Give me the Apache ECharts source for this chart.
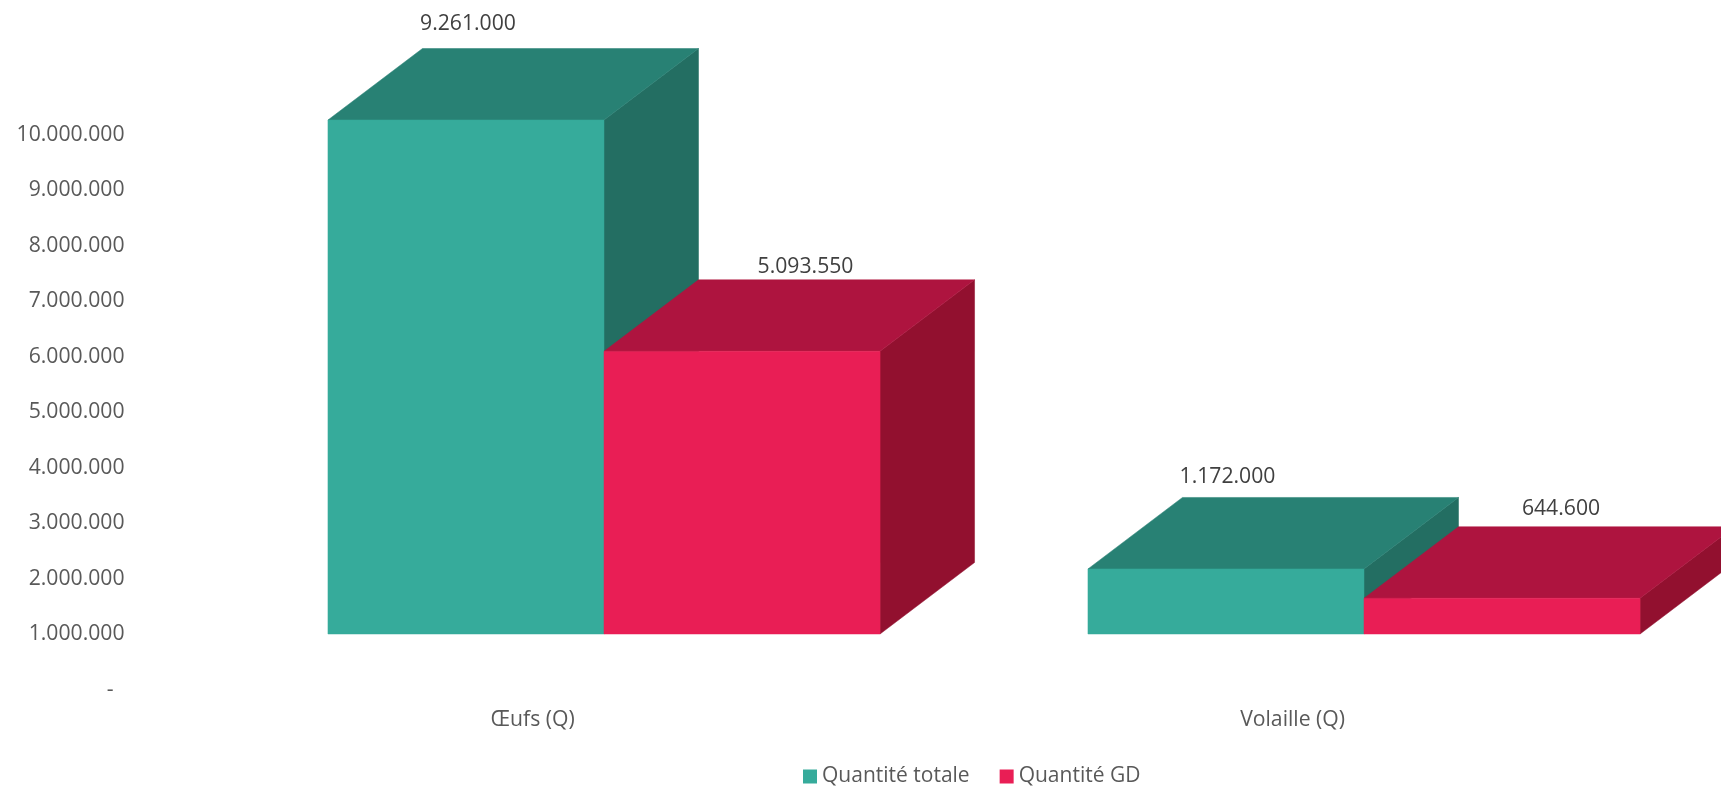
<!DOCTYPE html>
<html>
<head>
<meta charset="utf-8">
<style>html,body{margin:0;padding:0;background:#fff}#c{width:1721px;height:787px}</style>
<script src="https://cdn.jsdelivr.net/npm/echarts@6/dist/echarts.min.js"></script>
</head>
<body>
<div id="c"></div>
<script>
const categories = ['Œufs (Q)', 'Volaille (Q)'];
const quantiteTotale = [9261000, 1172000];
const quantiteGD = [5093550, 644600];
const seriesNames = ['Quantité totale', 'Quantité GD'];
const floorValue = 1000000;

const FONT = '"Open Sans", sans-serif';
const FONT_SIZE = 21.2;
const fmt = v => String(v).replace(/\B(?=(\d{3})+(?!\d))/g, '.');
const DEPTH_X = 94.5, DEPTH_Y = 71.5, BAR_RATIO = 0.3632, GROUP_SHIFT = 71.4;

function box(colors, side, labelOffsets) {
  return function (params, api) {
    const i = api.value(0), v = api.value(1);
    const bandW = api.size([1, 0])[0];
    const w = bandW * BAR_RATIO;
    const cx = api.coord([i, 0])[0] + GROUP_SHIFT;
    const x0 = side === 0 ? cx - w : cx;
    const x1 = x0 + w;
    const yB = api.coord([i, floorValue])[1];
    const yT = api.coord([i, floorValue + v])[1];
    const off = labelOffsets[i];
    const poly = (pts, fill) => ({ type: 'polygon', shape: { points: pts }, style: { fill: fill, stroke: fill, lineWidth: 0.5 } });
    return {
      type: 'group',
      children: [
        poly([[x1, yB], [x1 + DEPTH_X, yB - DEPTH_Y], [x1 + DEPTH_X, yT - DEPTH_Y], [x1, yT]], colors.side),
        poly([[x0, yT], [x0 + DEPTH_X, yT - DEPTH_Y], [x1 + DEPTH_X, yT - DEPTH_Y], [x1, yT]], colors.top),
        poly([[x0, yB], [x1, yB], [x1, yT], [x0, yT]], colors.front),
        {
          type: 'text',
          style: {
            x: (x0 + x1) / 2 + off[0], y: yT - DEPTH_Y - off[1],
            text: fmt(v), align: 'center', verticalAlign: 'middle',
            font: FONT_SIZE + 'px ' + FONT, fill: '#404040'
          }
        }
      ]
    };
  };
}

const tealColors = { front: '#36AB9B', top: '#288174', side: '#236E62' };
const redColors = { front: '#E91E55', top: '#AE143F', side: '#92102F' };

const chart = echarts.init(document.getElementById('c'), null, { renderer: 'canvas' });
chart.setOption({
  animation: false,
  backgroundColor: '#fff',
  grid: { left: 152.6, top: 134.5, width: 1520, height: 555, containLabel: false },
  legend: {
    left: 803, top: 766, icon: 'rect', itemWidth: 14, itemHeight: 14, itemGap: 30,
    padding: 0, selectedMode: false,
    data: seriesNames,
    textStyle: { fontFamily: FONT, fontSize: 21, color: '#595959' }
  },
  xAxis: {
    type: 'category', data: categories,
    axisLine: { show: false }, axisTick: { show: false }, splitLine: { show: false },
    axisLabel: { fontFamily: FONT, fontSize: FONT_SIZE, color: '#595959', margin: 20 }
  },
  yAxis: {
    type: 'value', min: 0, max: 10000000, interval: 1000000,
    axisLine: { show: false }, axisTick: { show: false }, splitLine: { show: false },
    axisLabel: {
      fontFamily: FONT, fontSize: FONT_SIZE, color: '#595959', margin: 28, padding: [4, 0, 0, 0],
      formatter: v => v === 0 ? '-\u00a0\u00a0' : fmt(v)
    }
  },
  series: [
    {
      name: seriesNames[0], type: 'custom', itemStyle: { color: tealColors.front },
      encode: { x: 0, y: 1 },
      renderItem: box(tealColors, 0, [[2, 24.5], [1.5, 20.5]]),
      data: quantiteTotale.map((v, i) => [i, v])
    },
    {
      name: seriesNames[1], type: 'custom', itemStyle: { color: redColors.front },
      encode: { x: 0, y: 1 },
      renderItem: box(redColors, 1, [[63.5, 13], [59, 18]]),
      data: quantiteGD.map((v, i) => [i, v])
    }
  ]
});
</script>
</body>
</html>
